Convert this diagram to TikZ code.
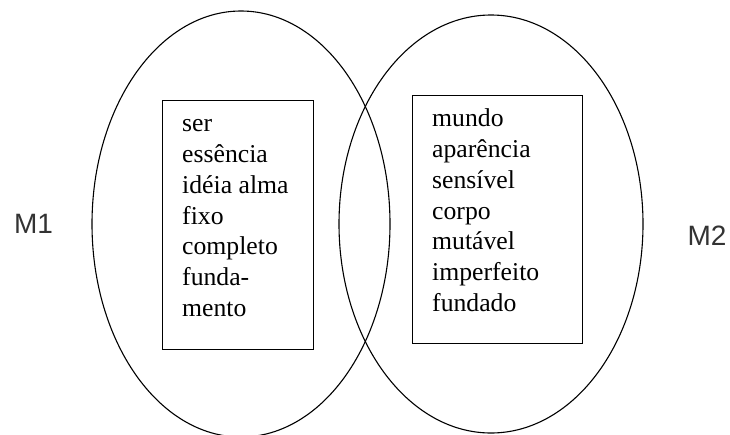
\documentclass[tikz,border=0pt]{standalone}
\usepackage{fontspec}
\setmainfont{Liberation Serif}
\setsansfont{Liberation Sans}
\begin{document}
\begin{tikzpicture}[x=1pt,y=-1pt,
	wordbox/.style={draw,line width=1.2pt,anchor=north west,inner sep=0pt},
	words/.style={align=left,inner sep=0pt,anchor=base west,
		font=\fontsize{25.7}{30.8}\selectfont},
	setname/.style={font=\sffamily\fontsize{28}{30}\selectfont,text=black!80}]
	\useasboundingbox (0,0) rectangle (730,434);
	\clip (0,0) rectangle (730,434);
	% the two worlds
	\draw[line width=1.1pt] (241,224) ellipse [x radius=149,y radius=213];
	\draw[line width=1.1pt] (491,224) ellipse [x radius=152,y radius=209];
	\node[wordbox,minimum width=151pt,minimum height=249pt](essbox) at (162,100) {};
	\node[wordbox,minimum width=170pt,minimum height=248pt](mundbox) at (412,95) {};
	\node[words](esstext) at ([xshift=20pt,yshift=-216.5pt]essbox.north west)
		{ser\\essência\\idéia alma\\fixo\\completo\\funda-\\mento};
	\node[words](mundtext) at ([xshift=20pt,yshift=-216.5pt]mundbox.north west)
		{mundo\\aparência\\sensível\\corpo\\mutável\\imperfeito\\fundado};
	\node[setname](mone) at (33.5,223.5) {M1};
	\node[setname](mtwo) at (707,236) {M2};
\end{tikzpicture}
\end{document}
